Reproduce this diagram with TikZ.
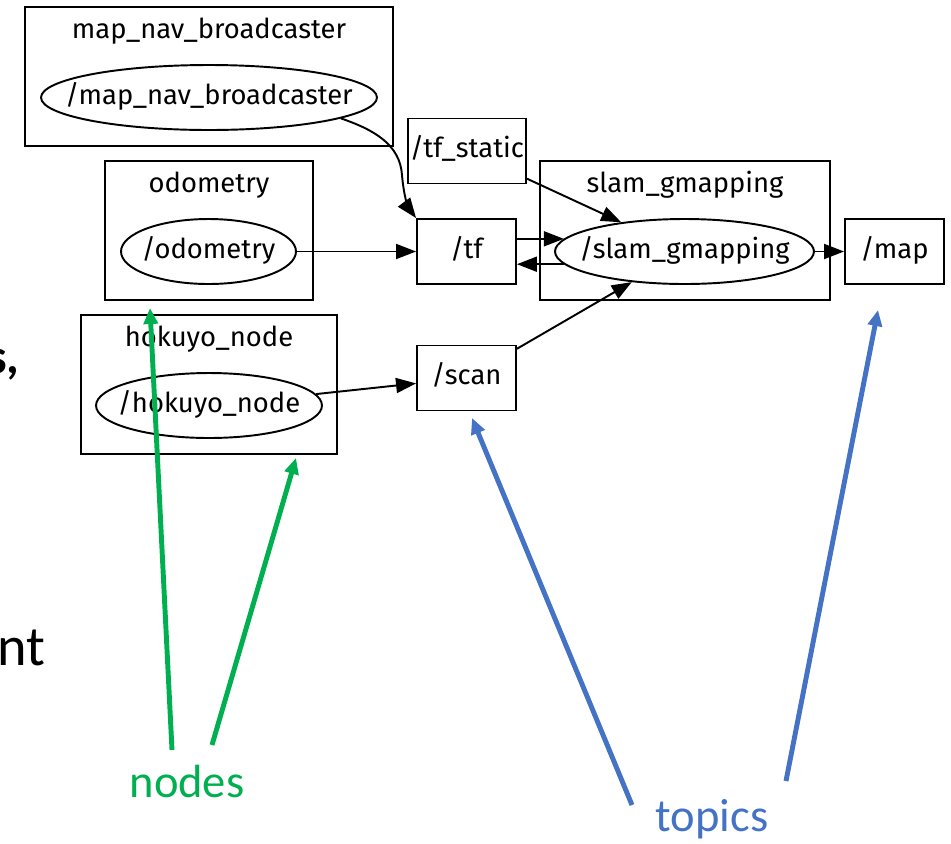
\documentclass[tikz,border=0pt]{standalone}
\usepackage{fontspec}
\setmainfont{Fira Sans}
\newfontfamily\slidefont{Carlito}
\usetikzlibrary{shapes.geometric, arrows.meta, calc}
\definecolor{NodeGreen}{RGB}{0,176,80}
\definecolor{TopicBlue}{RGB}{68,114,196}

\begin{document}
\begin{tikzpicture}[
      x=0.02cm, y=-0.02cm,
      font=\fontsize{15.6}{19}\selectfont,
      cluster/.style={draw, line width=1.1pt, inner sep=0pt},
      rosnode/.style={ellipse, draw, line width=1.1pt, inner sep=0pt,
                      minimum height=1.3cm, text height=0.75em, text depth=0pt,
                      execute at begin node=\hbox to 0pt\bgroup\hss,
                      execute at end node=\hss\egroup},
      topic/.style={draw, line width=1.1pt, inner sep=0pt, minimum width=1.98cm,
                    minimum height=1.3cm, text height=0.75em, text depth=0pt},
      title/.style={anchor=base, inner sep=0pt},
      edge/.style={-{Triangle[length=4mm, width=3mm]}, line width=1.1pt},
      pointer/.style={-{Triangle[length=3.2mm, width=2.8mm]}, line width=2.8pt},
      label/.style={font=\slidefont\fontsize{26.5}{30}\selectfont, anchor=base, inner sep=0pt},
    ]
      \useasboundingbox (0,0) rectangle (951,843);
      \clip (0,0) rectangle (951,843);

      % clusters
      \node[cluster, minimum width=7.36cm, minimum height=2.78cm] (mapnavgrp) at (209,76.5) {};
      \node[cluster, minimum width=4.16cm, minimum height=2.78cm] (odomgrp) at (209,230.5) {};
      \node[cluster, minimum width=5.8cm, minimum height=2.78cm] (slamgrp) at (685,230.5) {};
      \node[cluster, minimum width=5.12cm, minimum height=2.78cm] (hokuyogrp) at (209,384.5) {};
      \node[title] at (209,38) {map\_nav\_broadcaster};
      \node[title] at (209,192.5) {odometry};
      \node[title] at (685,192.5) {slam\_gmapping};
      \node[title] at (209,346) {hokuyo\_node};

      % nodes and topics
      \node[rosnode, minimum width=6.72cm] (mapnav) at (209,97.5) {/map\_nav\_broadcaster};
      \node[rosnode, minimum width=3.5cm] (odom) at (208.5,251.5) {/odometry};
      \node[rosnode, minimum width=5.18cm] (slam) at (684.5,251.5) {/slam\_gmapping};
      \node[rosnode, minimum width=4.52cm] (hokuyo) at (209,405.5) {/hokuyo\_node};
      \node[topic, minimum width=2.36cm] (tfstatic) at (467,151) {/tf\_static};
      \node[topic] (tf) at (466.5,251.5) {/tf};
      \node[topic] (map) at (894.5,251.5) {/map};
      \node[topic] (scan) at (466.5,378) {/scan};

      \draw[edge] (mapnav.-9) .. controls (375,130) and (400,145) .. (402,175)
        .. controls (404,200) and (410,210) .. (tf.north west);
      \draw[edge] (tfstatic) -- (slam);
      \draw[edge] (odom) -- (tf);
      \draw[edge] (tf.east |- slam.174) -- (slam.174);
      \draw[edge] (slam.186) -- (tf.east |- slam.186);
      \draw[edge] (slam) -- (map);
      \draw[edge] (scan) -- (slam);
      \draw[edge] (hokuyo) -- (scan);

      % slide text cut at the edge
      \node[font=\slidefont\bfseries\fontsize{28}{32}\selectfont, anchor=base east, inner sep=0pt]
        (slidecomma) at (20,373) {s,};
      \node[font=\slidefont\fontsize{32}{36}\selectfont, anchor=base east, inner sep=0pt]
        (slidetail) at (46,665) {nt};

      % annotations
      \node[label, text=NodeGreen] (nodeslbl) at (187,797) {nodes};
      \node[label, text=TopicBlue] (topicslbl) at (712,831) {topics};
      \coordinate (odomtip) at (150,308);
      \coordinate (hokuyotip) at (296,458);
      \coordinate (scantip) at (472,418);
      \coordinate (maptip) at (878,310);
      \coordinate (nodesfoot1) at (172,750);
      \coordinate (nodesfoot2) at (212,745);
      \coordinate (topicsfoot1) at (632,805);
      \coordinate (topicsfoot2) at (786,781);
      \draw[pointer, NodeGreen] (nodesfoot1) -- (odomtip);
      \draw[pointer, NodeGreen] (nodesfoot2) -- (hokuyotip);
      \draw[pointer, TopicBlue] (topicsfoot1) -- (scantip);
      \draw[pointer, TopicBlue] (topicsfoot2) -- (maptip);
    \end{tikzpicture}
\end{document}
